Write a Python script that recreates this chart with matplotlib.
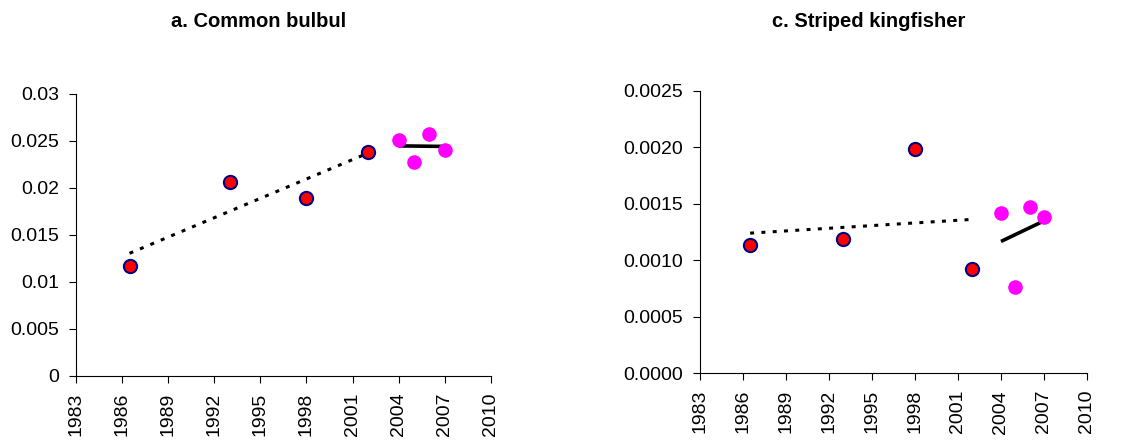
import matplotlib.pyplot as plt
import numpy as np

plt.rcParams['font.family'] = ['Liberation Sans', 'DejaVu Sans']

# Survey years (midpoints) and values
early_years = [1986.5, 1993, 1998, 2002]
late_years = [2004, 2005, 2006, 2007]

bulbul_early = [0.01173, 0.02067, 0.01897, 0.02386]
bulbul_late = [0.02514, 0.0228, 0.02578, 0.02408]

kingfisher_early = [0.001133, 0.001189, 0.001983, 0.000923]
kingfisher_late = [0.001417, 0.000764, 0.00147, 0.001384]

x_ticks = list(range(1983, 2011, 3))
bulbul_yticks = [0, 0.005, 0.01, 0.015, 0.02, 0.025, 0.03]
bulbul_ylabels = ["0", "0.005", "0.01", "0.015", "0.02", "0.025", "0.03"]
kingfisher_yticks = [0, 0.0005, 0.001, 0.0015, 0.002, 0.0025]
kingfisher_ylabels = ["0.0000", "0.0005", "0.0010", "0.0015", "0.0020", "0.0025"]

fig = plt.figure(figsize=(11.4, 4.4), dpi=100)
ax1 = fig.add_axes([0.0664, 0.1455, 0.3643, 0.6409])
ax2 = fig.add_axes([0.614, 0.1516, 0.3395, 0.6416])


def trend(ax, xs, ys, **kw):
    # linear least-squares trendline, like Excel
    k, b = np.polyfit(xs, ys, 1)
    xx = np.array([xs[0], xs[-1]])
    ax.plot(xx, k * xx + b, color="black", zorder=2, **kw)


def panel(ax, early, late, yticks, ylabels):
    trend(ax, early_years, early, linewidth=2.2, linestyle=(0, (1.3, 2.4)))
    trend(ax, late_years, late, linewidth=2.6, solid_capstyle="butt")
    ax.plot(early_years, early, "o", markersize=9.5, markerfacecolor="#FF0000",
            markeredgecolor="#000080", markeredgewidth=1.5, linestyle="none", zorder=3)
    ax.plot(late_years, late, "o", markersize=10.5, markerfacecolor="#FF00FF",
            markeredgecolor="#FF00FF", markeredgewidth=0, linestyle="none", zorder=3)
    ax.set_xlim(1983, 2010)
    ax.set_ylim(yticks[0], yticks[-1])
    ax.set_xticks(x_ticks)
    ax.set_xticklabels([str(t) for t in x_ticks], rotation=90)
    ax.set_yticks(yticks)
    ax.set_yticklabels(ylabels)
    ax.tick_params(labelsize=14, length=5, width=0.8, pad=7, color="black")
    for s in ["top", "right"]:
        ax.spines[s].set_visible(False)
    for s in ["left", "bottom"]:
        ax.spines[s].set_linewidth(0.8)
        ax.spines[s].set_color("black")


panel(ax1, bulbul_early, bulbul_late, bulbul_yticks, bulbul_ylabels)
panel(ax2, kingfisher_early, kingfisher_late, kingfisher_yticks, kingfisher_ylabels)

fig.text(0.227, 0.952, "a. Common bulbul", ha="center", va="center",
         fontsize=14.5, fontweight="bold")
fig.text(0.762, 0.952, "c. Striped kingfisher", ha="center", va="center",
         fontsize=14.5, fontweight="bold")

fig.savefig("out.png", dpi=100)
